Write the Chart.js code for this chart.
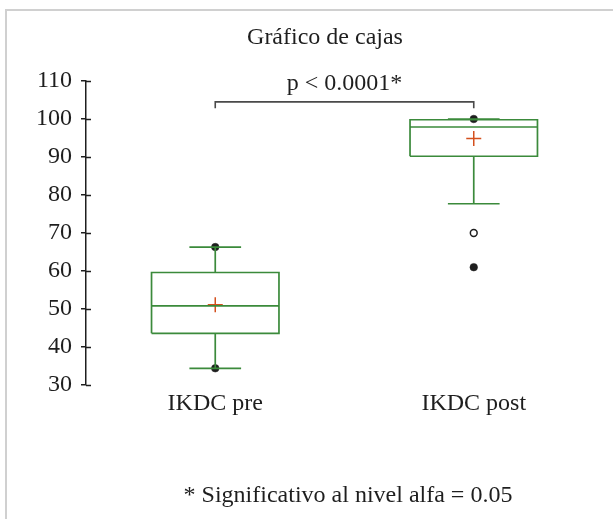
<!DOCTYPE html>
<html>
<head>
<meta charset="utf-8">
<script src="https://cdn.jsdelivr.net/npm/chart.js@4.4.1/dist/chart.umd.min.js"></script>
<style>
  html, body { margin: 0; padding: 0; background: #fff; overflow: hidden; }
  #wrap { position: relative; width: 613px; height: 519px; }
  #frame { position: absolute; left: 5px; top: 9px; width: 700px; height: 600px;
           border-left: 2px solid #d0d0d0; border-top: 2px solid #d0d0d0; }
  canvas { position: absolute; left: 0; top: 0; }
</style>
</head>
<body>
<div id="wrap">
  <div id="frame"></div>
  <canvas id="chart" width="613" height="519"></canvas>
</div>
<script>
// values
const CATEGORIES = ['IKDC pre', 'IKDC post'];
const Q1 = [43.6, 90.2];
const MEDIAN = [50.8, 97.9];
const Q3 = [59.6, 99.8];
const WHISKER_LOW = [34.4, 77.7];
const WHISKER_HIGH = [66.3, 100];
const MEAN = [51.1, 94.9];
const MINS = [34.4, 61];
const MAXS = [66.3, 100];
const OUTLIERS = [[], [70]];
const Y_TICKS = [30, 40, 50, 60, 70, 80, 90, 100, 110];
const BRACKET_TOP = 104.5;
const BRACKET_FOOT = 102.8;

const TITLE = 'Gráfico de cajas';
const P_TEXT = 'p < 0.0001*';
const FOOTNOTE = '* Significativo al nivel alfa = 0.05';

const FONT = '"Liberation Serif", "Times New Roman", serif';
const GREEN = '#3b8a3b';
const RED = '#d4501e';
const INK = '#1e1e1e';
const BOX_HALF = 0.2465;
const CAP_HALF = 0.1;

// one green line dataset per box, segments split by null gaps
function boxLines(i) {
  const x = i + 1;
  const gap = { x: x, y: null };
  const pts = [
    { x: x - BOX_HALF, y: Q1[i] }, { x: x + BOX_HALF, y: Q1[i] },
    { x: x + BOX_HALF, y: Q3[i] }, { x: x - BOX_HALF, y: Q3[i] },
    { x: x - BOX_HALF, y: Q1[i] }, gap,
    { x: x - BOX_HALF, y: MEDIAN[i] }, { x: x + BOX_HALF, y: MEDIAN[i] }, gap,
    { x: x, y: Q1[i] }, { x: x, y: WHISKER_LOW[i] }, gap,
    { x: x - CAP_HALF, y: WHISKER_LOW[i] }, { x: x + CAP_HALF, y: WHISKER_LOW[i] }, gap,
    { x: x, y: Q3[i] }, { x: x, y: WHISKER_HIGH[i] }, gap,
    { x: x - CAP_HALF, y: WHISKER_HIGH[i] }, { x: x + CAP_HALF, y: WHISKER_HIGH[i] },
  ];
  return {
    type: 'line',
    data: pts,
    borderColor: GREEN,
    borderWidth: 1.7,
    pointRadius: 0,
    tension: 0,
    spanGaps: false,
    fill: false,
    clip: false,
  };
}

const datasets = CATEGORIES.map((_, i) => boxLines(i));

datasets.push({
  type: 'line',
  data: [
    { x: 1, y: BRACKET_FOOT }, { x: 1, y: BRACKET_TOP },
    { x: 2, y: BRACKET_TOP }, { x: 2, y: BRACKET_FOOT },
  ],
  borderColor: '#4a4a4a',
  borderWidth: 1.6,
  pointRadius: 0,
  tension: 0,
  fill: false,
  clip: false,
});

datasets.push({
  type: 'scatter',
  data: MEAN.map((v, i) => ({ x: i + 1, y: v })),
  pointStyle: 'cross',
  pointRadius: 7.5,
  borderColor: RED,
  borderWidth: 1.5,
  clip: false,
});

const extremes = [];
CATEGORIES.forEach((_, i) => {
  extremes.push({ x: i + 1, y: MINS[i] });
  extremes.push({ x: i + 1, y: MAXS[i] });
});
datasets.push({
  type: 'scatter',
  data: extremes,
  pointStyle: 'circle',
  pointRadius: 3.8,
  backgroundColor: INK,
  borderColor: INK,
  borderWidth: 0.5,
  clip: false,
});

const outliers = [];
OUTLIERS.forEach((list, i) => list.forEach(v => outliers.push({ x: i + 1, y: v })));
datasets.push({
  type: 'scatter',
  data: outliers,
  pointStyle: 'circle',
  pointRadius: 3.4,
  backgroundColor: '#fff',
  borderColor: INK,
  borderWidth: 1.5,
  clip: false,
});

const textPlugin = {
  id: 'texts',
  afterDraw(chart) {
    const { ctx, scales } = chart;
    const x = scales.x, y = scales.y;
    ctx.save();
    ctx.fillStyle = INK;
    ctx.font = '24px ' + FONT;
    ctx.textAlign = 'center';
    ctx.textBaseline = 'alphabetic';
    ctx.fillText(TITLE, 325, 44);
    ctx.fillText(P_TEXT, x.getPixelForValue(1.5), y.getPixelForValue(BRACKET_TOP) - 12);
    ctx.fillText(FOOTNOTE, 348, 502);

    // tick marks also stick out to the right of the axis
    ctx.strokeStyle = INK;
    ctx.lineWidth = 1.5;
    const ax = chart.chartArea.left;
    Y_TICKS.forEach(t => {
      const py = Math.round(y.getPixelForValue(t)) + 0.5;
      ctx.beginPath();
      ctx.moveTo(ax, py);
      ctx.lineTo(ax + 5, py);
      ctx.stroke();
    });
    ctx.restore();
  },
};

new Chart(document.getElementById('chart'), {
  data: { datasets },
  plugins: [textPlugin],
  options: {
    responsive: false,
    animation: false,
    events: [],
    layout: { padding: { top: 81, right: 10, bottom: 100, left: 0 } },
    plugins: { legend: { display: false }, tooltip: { enabled: false } },
    scales: {
      x: {
        type: 'linear',
        min: 0.5,
        max: 2.5,
        grid: { display: false, drawTicks: false },
        border: { display: false },
        afterBuildTicks: (s) => { s.ticks = CATEGORIES.map((_, i) => ({ value: i + 1 })); },
        afterFit: (s) => { s.height = 34; },
        ticks: {
          callback: (v) => CATEGORIES[v - 1],
          font: { family: FONT, size: 24 },
          color: INK,
          padding: 4,
          maxRotation: 0,
          autoSkip: false,
        },
      },
      y: {
        type: 'linear',
        min: 30,
        max: 110,
        afterBuildTicks: (s) => { s.ticks = Y_TICKS.map(v => ({ value: v })); },
        afterFit: (s) => { s.width = 86; },
        grid: { drawOnChartArea: false, tickLength: 5, color: INK, lineWidth: 1.5 },
        border: { color: INK, width: 1.5 },
        ticks: {
          font: { family: FONT, size: 24 },
          color: INK,
          padding: 9,
        },
      },
    },
  },
});
</script>
</body>
</html>
